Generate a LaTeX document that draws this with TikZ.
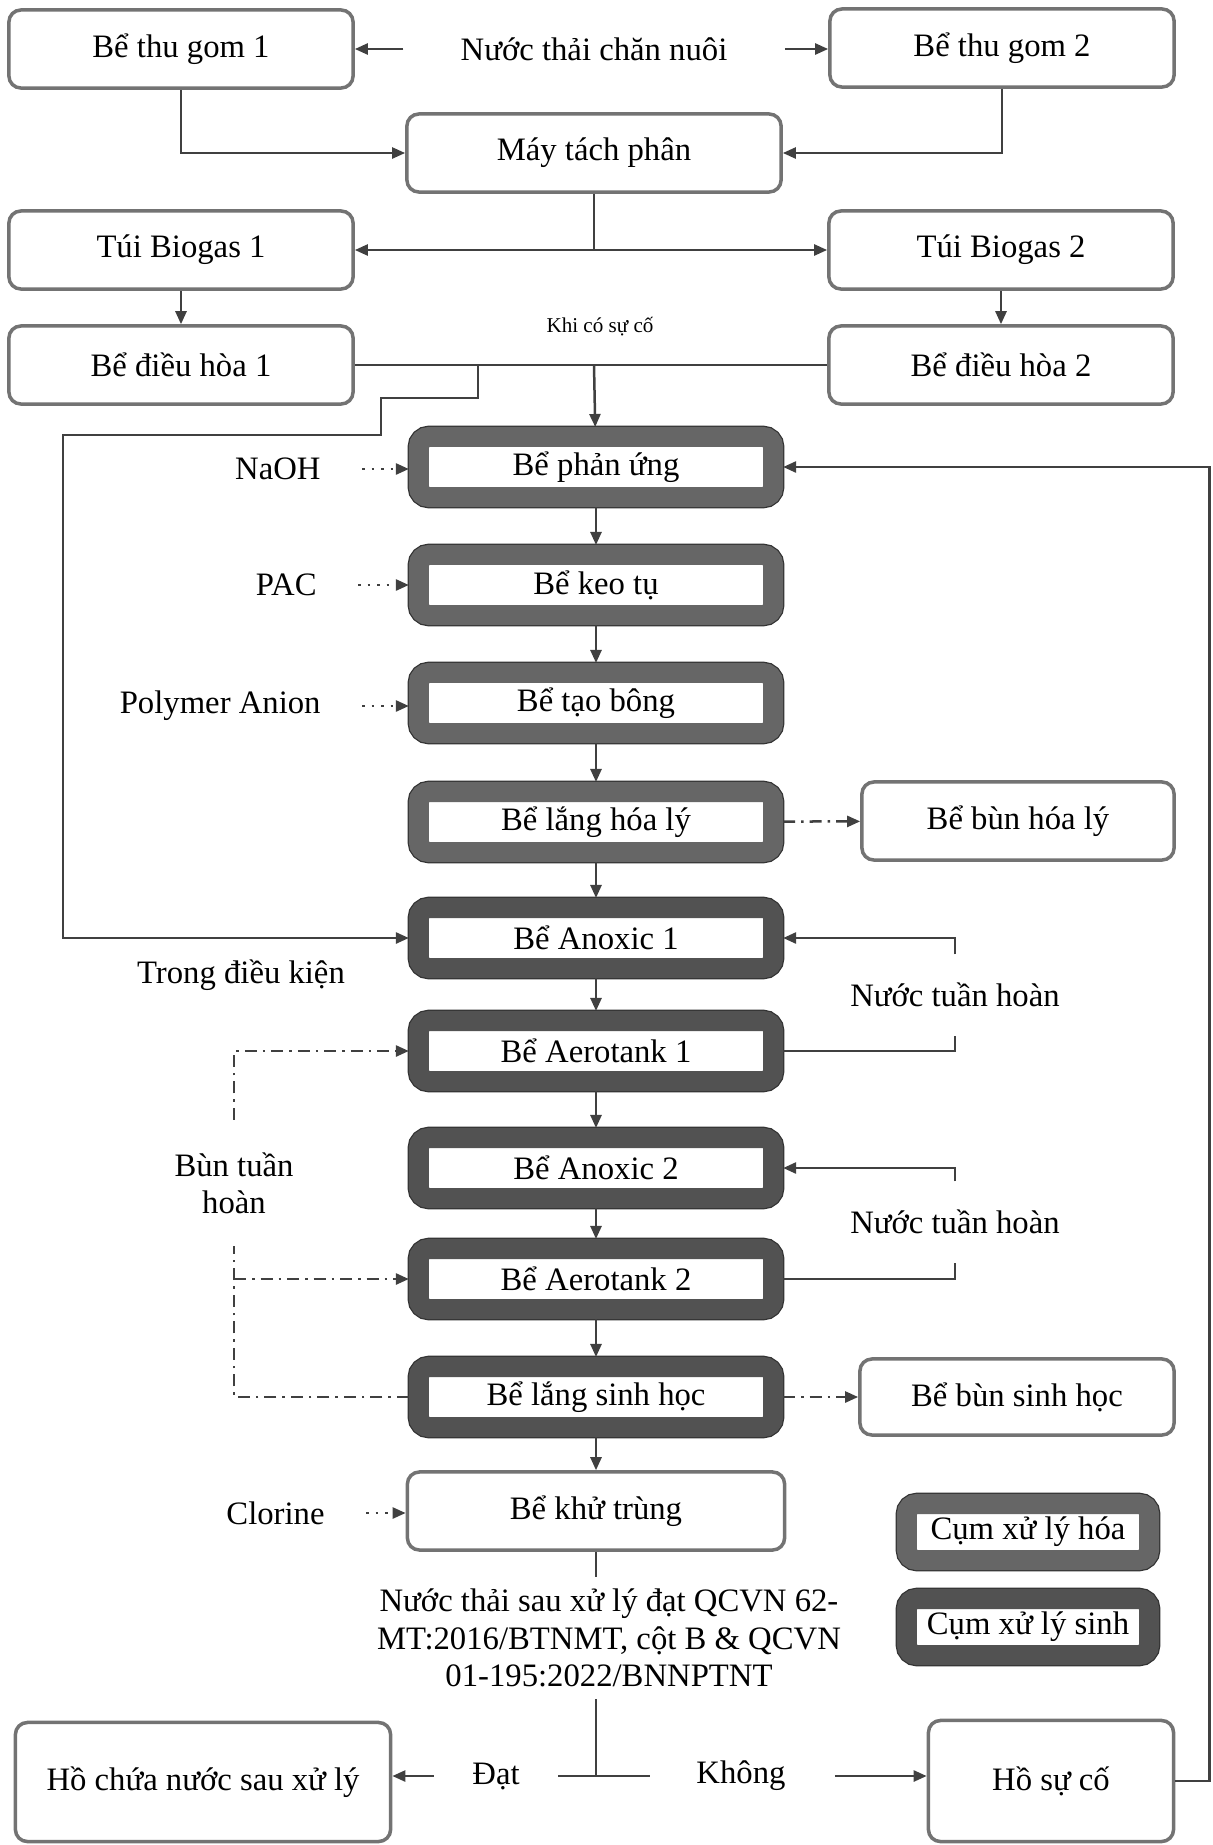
\documentclass[tikz,border=0pt]{standalone}
\usepackage{fontspec}
\setmainfont{Liberation Serif}
\usetikzlibrary{arrows.meta}
\begin{document}
\begin{tikzpicture}[x=0.01cm, y=-0.01cm, every node/.style={font=\fontsize{9.3}{10.6}\selectfont},
  conn/.style={draw=black!75, line width=0.25mm},
  flow/.style={conn, -{Triangle[length=1.3mm,width=1.1mm]}},
  dotflow/.style={flow, dotted, shorten <=2.9mm},
  dashline/.style={conn, dash pattern=on 1.2mm off 0.6mm on 0.25mm off 0.6mm},
  dashflow/.style={dashline, -{Triangle[length=1.3mm,width=1.1mm]}},
  box/.style={draw=black!55, line width=0.35mm, rounded corners=1.2mm, fill=white, minimum width=3.44cm, minimum height=0.78cm, align=center},
  unit/.style={draw=#1, line width=2mm, rounded corners=1mm, fill=white, minimum width=3.54cm, minimum height=0.6cm, preaction={draw=black!80, line width=2.25mm}},
  chem/.style={unit=black!60},
  bio/.style={unit=black!68}]
\useasboundingbox (0,0) rectangle (1213,1845);
\node[box] (tg1) at (181,49) {Bể thu gom 1};
\node[box] (tg2) at (1002,48) {Bể thu gom 2};
\node (src) at (594,49) {Nước thải chăn nuôi};
\node[box, minimum width=3.74cm] (may) at (594,153) {Máy tách phân};
\node[box] (tb1) at (181,250) {Túi Biogas 1};
\node[box] (tb2) at (1001,250) {Túi Biogas 2};
\node[box] (dh1) at (181,365) {Bể điều hòa 1};
\node[box] (dh2) at (1001,365) {Bể điều hòa 2};
\node[font=\fontsize{6}{7}\selectfont] (kcsc) at (600,327) {Khi có sự cố};
\node[chem] (pu) at (596,467) {Bể phản ứng};
\node[chem] (kt) at (596,585) {Bể keo tụ};
\node[chem] (tbo) at (596,703) {Bể tạo bông};
\node[chem] (lhl) at (596,822) {Bể lắng hóa lý};
\node[bio] (ax1) at (596,938) {Bể Anoxic 1};
\node[bio] (ae1) at (596,1051) {Bể Aerotank 1};
\node[bio] (ax2) at (596,1168) {Bể Anoxic 2};
\node[bio] (ae2) at (596,1279) {Bể Aerotank 2};
\node[bio] (lsh) at (596,1397) {Bể lắng sinh học};
\node[box, minimum width=3.77cm] (ktr) at (596,1511) {Bể khử trùng};
\node[anchor=east] (naoh) at (333,469) {NaOH};
\node[anchor=east] (pac) at (329,585) {PAC};
\node[anchor=east] (pol) at (333,706) {Polymer Anion};
\node[anchor=east] (clo) at (337,1513) {Clorine};
\node[box, minimum width=3.12cm] (bhl) at (1018,821) {Bể bùn hóa lý};
\node[box, minimum width=3.14cm, minimum height=0.76cm] (bsh) at (1017,1397) {Bể bùn sinh học};
\node (tdk) at (241,975) {Trong điều kiện};
\node[minimum height=0.8cm] (nth1) at (955,995) {Nước tuần hoàn};
\node[minimum height=0.8cm] (nth2) at (955,1222) {Nước tuần hoàn};
\node[align=center, minimum height=1.25cm] (btl) at (234,1183) {Bùn tuần\\hoàn};
\node[align=center] (qc) at (609,1638) {Nước thải sau xử lý đạt QCVN 62-\\MT:2016/BTNMT, cột B \& QCVN\\01-195:2022/BNNPTNT};
\node[chem, minimum width=2.42cm, minimum height=0.56cm] (lg1) at (1028,1532) {Cụm xử lý hóa};
\node[bio, minimum width=2.42cm, minimum height=0.56cm] (lg2) at (1028,1627) {Cụm xử lý sinh};
\node[box, minimum width=3.75cm, minimum height=1.19cm] (ho1) at (203,1782) {Hồ chứa nước sau xử lý};
\node[box, minimum width=2.45cm, minimum height=1.21cm] (hsc) at (1051,1781) {Hồ sự cố};
\node (dat) at (496,1776) {Đạt};
\node (khong) at (741,1776) {Không};
\coordinate (mj) at (may.south |- tb1.east);
\coordinate (dj) at (may.south |- dh1.east);
\coordinate (bj) at ([xshift=1.23cm]dh1.east);
\coordinate (sj) at (btl.south |- ae2.west);
\coordinate (jn) at (ktr.south |- dat);
\draw[flow, shorten <=4.5mm] (src.west) -- (tg1.east);
\draw[flow, shorten <=4.5mm] (src.east) -- (src.east -| tg2.west);
\draw[flow] (tg1.south) |- (may.west);
\draw[flow] (tg2.south) |- (may.east);
\draw[conn] (may.south) -- (mj);
\draw[flow] (mj) -- (tb1.east);
\draw[flow] (mj) -- (tb2.west);
\draw[flow] (tb1) -- (dh1);
\draw[flow] (tb2) -- (dh2);
\draw[conn] (dh1.east) -- (dh2.west);
\draw[flow] (dj) -- (pu);
\draw[flow] (bj) -- ++(0,33) -- ++(-97,0) -- ++(0,37) -- ++(-318,0) |- (ax1.west);
\draw[flow] (pu) -- (kt);
\draw[flow] (kt) -- (tbo);
\draw[flow] (tbo) -- (lhl);
\draw[flow] (lhl) -- (ax1);
\draw[flow] (ax1) -- (ae1);
\draw[flow] (ae1) -- (ax2);
\draw[flow] (ax2) -- (ae2);
\draw[flow] (ae2) -- (lsh);
\draw[flow] (lsh) -- (ktr);
\draw[dotflow] (naoh.east) -- (naoh.east -| pu.west);
\draw[dotflow] (pac.east) -- (pac.east -| kt.west);
\draw[dotflow] (pol.east) -- (pol.east -| tbo.west);
\draw[dotflow] (clo.east) -- (clo.east -| ktr.west);
\draw[dashflow] (lhl) -- (bhl);
\draw[dashflow] (lsh) -- (bsh);
\draw[conn] (ae1.east) -| (nth1.south);
\draw[flow] (nth1.north) |- (ax1.east);
\draw[conn] (ae2.east) -| (nth2.south);
\draw[flow] (nth2.north) |- (ax2.east);
\draw[dashline] (lsh.west) -| (btl.south);
\draw[dashflow] (btl.north) |- (ae1.west);
\draw[dashflow] (sj) -- (ae2.west);
\draw[conn] (ktr.south) -- (ktr.south |- qc.north);
\draw[conn] (ktr.south |- qc.south) -- (jn);
\draw[conn, shorten <=2.6mm, shorten >=3.4mm] (dat) -- (khong);
\draw[flow, shorten <=2.6mm] (dat.west) -- (dat.west -| ho1.east);
\draw[flow, shorten <=3.7mm] (khong.east) -- (khong.east -| hsc.west);
\draw[flow] (hsc.east) -- ++(34,0) |- (pu.east);
\end{tikzpicture}
\end{document}
